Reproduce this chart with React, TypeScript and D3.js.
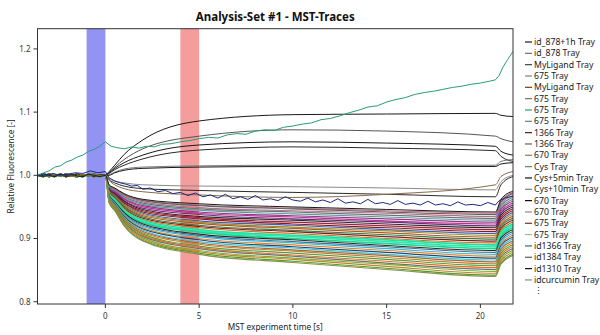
import React from 'react';
import * as d3 from 'd3';

// --- data ---
const xTicks = [0, 5, 10, 15, 20];
const yTicks = [0.8, 0.9, 1.0, 1.1, 1.2];

// laser-off (cold) and hot regions, seconds
const coldBand = [-1, 0];
const hotBand = [4, 5];

// pre-laser baselines (shared time grid)
const baseTimes = [-3.6, -3.3, -3.0, -2.7, -2.4, -2.1, -1.8, -1.5, -1.2, -0.9, -0.6, -0.3, 0];
const baselineA = [1.0, 0.998, 1.002, 0.999, 1.001, 0.998, 1.0, 1.002, 0.999, 1.001, 0.998, 1.001, 1.0];
const baselineB = [1.001, 1.0, 0.998, 1.001, 0.999, 1.002, 0.999, 0.998, 1.001, 0.999, 1.002, 0.999, 1.0];
const baselineC = [0.999, 1.002, 1.0, 0.998, 1.002, 1.0, 1.001, 0.999, 0.998, 1.002, 1.0, 0.998, 1.0];

// after laser on
const postTimes = [0.2, 0.5, 1, 2, 5, 10, 15, 20.8, 21.1, 21.74];

const upperTraceValues = [
  [1.006, 1.016, 1.033, 1.056, 1.086, 1.096, 1.097, 1.098, 1.095, 1.093],
  [1.005, 1.013, 1.025, 1.042, 1.062, 1.072, 1.07, 1.062, 1.058, 1.053],
  [1.004, 1.011, 1.02, 1.032, 1.048, 1.053, 1.051, 1.046, 1.038, 1.032],
  [1.003, 1.009, 1.016, 1.026, 1.04, 1.045, 1.043, 1.039, 1.03, 1.022],
  [1.001, 1.005, 1.01, 1.013, 1.015, 1.016, 1.016, 1.016, 1.022, 1.025],
  [1.0, 1.004, 1.008, 1.011, 1.013, 1.014, 1.014, 1.014, 1.018, 1.02],
];
const upperTraceColors = ['#1a1a1a', '#555555', '#1a1a1a', '#2a2a2a', '#7a7a7a', '#1a1a1a'];

const sparseTraceValues = [
  [0.995, 0.991, 0.988, 0.985, 0.983, 0.982, 0.98, 0.977, 0.99, 1.0],
  [0.993, 0.988, 0.983, 0.979, 0.976, 0.973, 0.97, 0.966, 0.985, 0.998],
  [0.992, 0.985, 0.979, 0.974, 0.969, 0.965, 0.97, 0.985, 0.998, 1.006],
  [0.985, 0.98, 0.971, 0.962, 0.955, 0.95, 0.946, 0.942, 0.962, 0.975],
];
const sparseTraceColors = ['#8a8a8a', '#2a2a2a', '#8a6a4a', '#1a1a1a'];

const denseTraceValues = [
  [0.984, 0.979, 0.97, 0.961, 0.953, 0.948, 0.944, 0.94, 0.96, 0.973],
  [0.983, 0.978, 0.969, 0.96, 0.952, 0.947, 0.942, 0.938, 0.958, 0.971],
  [0.982, 0.977, 0.968, 0.958, 0.949, 0.944, 0.94, 0.935, 0.955, 0.968],
  [0.982, 0.976, 0.966, 0.956, 0.947, 0.942, 0.937, 0.932, 0.952, 0.965],
  [0.981, 0.975, 0.965, 0.954, 0.945, 0.939, 0.934, 0.929, 0.949, 0.962],
  [0.98, 0.974, 0.963, 0.952, 0.942, 0.936, 0.931, 0.926, 0.946, 0.959],
  [0.979, 0.973, 0.962, 0.95, 0.94, 0.934, 0.928, 0.923, 0.943, 0.956],
  [0.978, 0.972, 0.96, 0.948, 0.938, 0.931, 0.926, 0.92, 0.94, 0.953],
  [0.978, 0.971, 0.959, 0.946, 0.935, 0.929, 0.923, 0.917, 0.937, 0.95],
  [0.977, 0.97, 0.957, 0.944, 0.933, 0.926, 0.92, 0.914, 0.934, 0.947],
  [0.976, 0.969, 0.956, 0.942, 0.931, 0.923, 0.917, 0.911, 0.931, 0.944],
  [0.975, 0.968, 0.954, 0.94, 0.928, 0.921, 0.914, 0.908, 0.928, 0.941],
  [0.974, 0.967, 0.953, 0.938, 0.926, 0.918, 0.912, 0.905, 0.925, 0.938],
  [0.974, 0.966, 0.951, 0.936, 0.924, 0.916, 0.909, 0.902, 0.922, 0.935],
  [0.973, 0.965, 0.95, 0.934, 0.921, 0.913, 0.906, 0.899, 0.919, 0.932],
  [0.972, 0.964, 0.948, 0.932, 0.919, 0.911, 0.903, 0.896, 0.916, 0.929],
  [0.971, 0.963, 0.947, 0.93, 0.917, 0.908, 0.9, 0.893, 0.913, 0.926],
  [0.97, 0.962, 0.945, 0.929, 0.914, 0.905, 0.898, 0.89, 0.91, 0.923],
  [0.969, 0.96, 0.944, 0.927, 0.912, 0.903, 0.895, 0.887, 0.907, 0.92],
  [0.969, 0.959, 0.942, 0.925, 0.91, 0.9, 0.892, 0.884, 0.904, 0.917],
  [0.968, 0.958, 0.941, 0.923, 0.907, 0.898, 0.889, 0.881, 0.901, 0.914],
  [0.967, 0.957, 0.939, 0.921, 0.905, 0.895, 0.887, 0.878, 0.898, 0.911],
  [0.966, 0.956, 0.938, 0.919, 0.903, 0.893, 0.884, 0.875, 0.895, 0.908],
  [0.965, 0.955, 0.936, 0.917, 0.9, 0.89, 0.881, 0.872, 0.892, 0.905],
  [0.965, 0.954, 0.935, 0.915, 0.898, 0.887, 0.878, 0.869, 0.889, 0.902],
  [0.964, 0.953, 0.933, 0.913, 0.895, 0.885, 0.875, 0.866, 0.886, 0.899],
  [0.963, 0.952, 0.932, 0.911, 0.893, 0.882, 0.873, 0.863, 0.883, 0.896],
  [0.962, 0.951, 0.93, 0.909, 0.891, 0.88, 0.87, 0.86, 0.88, 0.893],
  [0.961, 0.95, 0.929, 0.907, 0.888, 0.877, 0.867, 0.857, 0.877, 0.89],
  [0.961, 0.949, 0.927, 0.905, 0.886, 0.874, 0.864, 0.854, 0.874, 0.887],
  [0.96, 0.948, 0.926, 0.903, 0.884, 0.872, 0.861, 0.851, 0.871, 0.884],
  [0.959, 0.947, 0.924, 0.901, 0.881, 0.869, 0.859, 0.848, 0.868, 0.881],
  [0.958, 0.946, 0.923, 0.899, 0.879, 0.867, 0.856, 0.845, 0.865, 0.878],
  [0.957, 0.945, 0.921, 0.897, 0.877, 0.864, 0.853, 0.842, 0.862, 0.875],
  [0.957, 0.944, 0.92, 0.896, 0.875, 0.862, 0.851, 0.84, 0.86, 0.873],
];
const denseTraceColors = [
  '#c07080', '#606060', '#b07090', '#707070', '#5a9a9a', '#8a3a8a', '#c03090',
  '#6a2a7a', '#2a2a2a', '#a02040', '#8b1a1a', '#4060b0', '#9a8a30', '#b05a20',
  '#3a7a3a', '#7a2020', '#d06a20', '#20e0a0', '#30e8b0', '#1ad890', '#2a2a2a',
  '#407090', '#30b8d8', '#e08030', '#1a4a6a', '#40c0e0', '#a06a30', '#c08030',
  '#50a040', '#e07020', '#707070', '#7ab030', '#c08030', '#50a020', '#8a9050',
];
// the bright spring-green band is drawn a little heavier
const thickDense = [17, 18, 19];

// noisy navy trace
const navyTimes = [
  -3.6, -3.2, -2.8, -2.4, -2.0, -1.6, -1.2, -0.8, -0.4, 0,
  0.2, 0.5, 0.8, 1.1, 1.4, 1.7,
  2.0, 2.4, 2.8, 3.2, 3.6, 4.0, 4.4, 4.8, 5.2, 5.6,
  6.0, 6.4, 6.8, 7.2, 7.6, 8.0, 8.4, 8.8, 9.2, 9.6,
  10.0, 10.4, 10.8, 11.2, 11.6, 12.0, 12.4, 12.8, 13.2, 13.6,
  14.0, 14.4, 14.8, 15.2, 15.6, 16.0, 16.4, 16.8, 17.2, 17.6,
  18.0, 18.4, 18.8, 19.2, 19.6, 20.0, 20.4, 20.8, 21.0, 21.3, 21.74,
];
const navyValues = [
  1.001, 0.999, 1.003, 1.0, 1.002, 1.004, 1.003, 1.007, 1.004, 1.006,
  0.996, 0.991, 0.988, 0.986, 0.983, 0.984,
  0.978, 0.98, 0.974, 0.976, 0.971, 0.973, 0.968, 0.972, 0.966, 0.969,
  0.964, 0.97, 0.963, 0.966, 0.962, 0.968, 0.961, 0.963, 0.96, 0.966,
  0.961, 0.959, 0.964, 0.958, 0.961, 0.957, 0.963, 0.956, 0.958, 0.955,
  0.962, 0.955, 0.957, 0.954, 0.96, 0.954, 0.956, 0.953, 0.959, 0.953,
  0.955, 0.952, 0.958, 0.953, 0.954, 0.952, 0.957, 0.953, 0.96, 0.964, 0.967,
];

// rising teal trace
const tealTimes = [
  -3.6, -3.3, -3.0, -2.7, -2.4, -2.1, -1.8, -1.5, -1.2, -0.9, -0.6, -0.3, 0,
  0.3, 0.6, 1.0, 1.4, 1.8, 2.2, 2.6, 3.0, 3.5, 4.0, 4.5, 5.0, 5.5, 6.0, 6.5,
  7.0, 7.5, 8.0, 8.5, 9.0, 9.5, 10.0, 10.5, 11.0, 11.5, 12.0, 12.5, 13.0,
  13.5, 14.0, 14.5, 15.0, 15.5, 16.0, 16.5, 17.0, 17.5, 18.0, 18.5, 19.0,
  19.5, 20.0, 20.5, 20.8, 21.0, 21.2, 21.45, 21.74,
];
const tealValues = [
  1.0, 1.004, 1.007, 1.013, 1.015, 1.021, 1.024, 1.029, 1.032, 1.038, 1.041, 1.046, 1.053,
  1.046, 1.044, 1.042, 1.045, 1.043, 1.046, 1.045, 1.049, 1.05, 1.053, 1.055, 1.058, 1.06, 1.059, 1.064,
  1.066, 1.065, 1.07, 1.072, 1.071, 1.076, 1.078, 1.081, 1.083, 1.088, 1.09, 1.094, 1.099,
  1.103, 1.108, 1.11, 1.116, 1.12, 1.123, 1.128, 1.131, 1.133, 1.136, 1.139, 1.141,
  1.144, 1.146, 1.149, 1.151, 1.158, 1.171, 1.183, 1.196,
];

const legendNames = [
  'id_878+1h Tray', 'id_878 Tray', 'MyLigand Tray', '675 Tray', 'MyLigand Tray',
  '675 Tray', '675 Tray', '675 Tray', '1366 Tray', '1366 Tray', '670 Tray',
  'Cys Tray', 'Cys+5min Tray', 'Cys+10min Tray', '670 Tray', '670 Tray',
  '675 Tray', '675 Tray', 'id1366 Tray', 'id1384 Tray', 'id1310 Tray', 'idcurcumin Tray',
];
const legendColors = [
  '#1a1a1a', '#707070', '#2a4a50', '#808080', '#8a3020', '#7a7060', '#20a080',
  '#6a8080', '#5a1a20', '#606060', '#8a7a50', '#5a8080', '#101010', '#7a7a7a',
  '#101010', '#8a8a8a', '#7a2a2a', '#a8b8a0', '#3a6a6a', '#5a5a5a', '#101010', '#8a8a8a',
];

const W = 600;
const H = 335;
const plot = { left: 37.5, right: 513, top: 28.7, bottom: 304 };

export default function App() {
  const x = d3.scaleLinear().domain([-3.62, 21.74]).range([plot.left, plot.right]);
  const y = d3.scaleLinear().domain([0.7964, 1.232]).range([plot.bottom, plot.top]);

  const smooth = d3.line<[number, number]>()
    .x(d => x(d[0]))
    .y(d => y(d[1]))
    .curve(d3.curveMonotoneX);
  const jagged = d3.line<[number, number]>()
    .x(d => x(d[0]))
    .y(d => y(d[1]));

  const baselines = [baselineA, baselineB, baselineC];
  const buildTrace = (vals: number[], i: number): [number, number][] => [
    ...baseTimes.map((t, j) => [t, baselines[i % 3][j]] as [number, number]),
    ...postTimes.map((t, j) => [t, vals[j]] as [number, number]),
  ];

  const fmt = d3.format('.1f');
  const font = '"Noto Sans", "Open Sans", sans-serif';

  return (
    <svg width={W} height={H} style={{ display: 'block', fontFamily: font }}>
      <style>{'body{margin:0}'}</style>
      <rect width={W} height={H} fill="#fff" />
      <defs>
        <clipPath id="plotClip">
          <rect x={plot.left} y={plot.top} width={plot.right - plot.left} height={plot.bottom - plot.top} />
        </clipPath>
      </defs>

      <text x={(plot.left + plot.right) / 2} y={21} textAnchor="middle" fontSize={11.5} fontWeight="bold" fill="#111">
        Analysis-Set #1 - MST-Traces
      </text>

      {/* cold / hot regions */}
      <rect x={x(coldBand[0])} y={plot.top} width={x(coldBand[1]) - x(coldBand[0])} height={plot.bottom - plot.top} fill="#9393f3" />
      <rect x={x(hotBand[0])} y={plot.top} width={x(hotBand[1]) - x(hotBand[0])} height={plot.bottom - plot.top} fill="#f59c9c" />

      <g clipPath="url(#plotClip)" fill="none">
        {upperTraceValues.map((vals, i) => (
          <path key={'u' + i} d={smooth(buildTrace(vals, i)) || ''} stroke={upperTraceColors[i]} strokeWidth={1} />
        ))}
        {denseTraceValues.map((vals, i) => (
          <path key={'d' + i} d={smooth(buildTrace(vals, i + 1)) || ''} stroke={denseTraceColors[i]}
            strokeWidth={thickDense.includes(i) ? 1.7 : 1.15} />
        ))}
        {sparseTraceValues.map((vals, i) => (
          <path key={'s' + i} d={smooth(buildTrace(vals, i + 2)) || ''} stroke={sparseTraceColors[i]} strokeWidth={1} />
        ))}
        <path d={jagged(navyTimes.map((t, i) => [t, navyValues[i]] as [number, number])) || ''} stroke="#1a2a80" strokeWidth={1} />
        <path d={jagged(tealTimes.map((t, i) => [t, tealValues[i]] as [number, number])) || ''} stroke="#2a9a7a" strokeWidth={1} />
      </g>

      {/* frame */}
      <rect x={plot.left} y={plot.top} width={plot.right - plot.left} height={plot.bottom - plot.top} fill="none" stroke="#333" strokeWidth={1} />

      {/* y axis */}
      {yTicks.map(t => (
        <g key={'y' + t}>
          <line x1={plot.left - 4} x2={plot.left} y1={y(t)} y2={y(t)} stroke="#333" />
          <text x={plot.left - 7} y={y(t)} dy="0.35em" textAnchor="end" fontSize={8} fill="#333">{fmt(t)}</text>
        </g>
      ))}
      <text transform={`translate(14,${(plot.top + plot.bottom) / 2}) rotate(-90)`} textAnchor="middle" fontSize={8.3} fill="#222">
        Relative Fluorescence [-]
      </text>

      {/* x axis */}
      {xTicks.map(t => (
        <g key={'x' + t}>
          <line x1={x(t)} x2={x(t)} y1={plot.bottom} y2={plot.bottom + 4} stroke="#333" />
          <text x={x(t)} y={plot.bottom + 15} textAnchor="middle" fontSize={8} fill="#333">{t}</text>
        </g>
      ))}
      <text x={(plot.left + plot.right) / 2} y={330} textAnchor="middle" fontSize={8.3} fill="#222">
        MST experiment time [s]
      </text>

      {/* legend */}
      {legendNames.map((name, i) => (
        <g key={'l' + i} transform={`translate(525,${42 + i * 11.33})`}>
          <line x1={0} x2={7} y1={0} y2={0} stroke={legendColors[i]} strokeWidth={1.2} />
          <text x={9} y={0} dy="0.35em" fontSize={8.7} fill="#222">{name}</text>
        </g>
      ))}
      <text x={534} y={42 + 22 * 11.33} dy="0.35em" fontSize={8.7} fill="#222">⋮</text>
    </svg>
  );
}
